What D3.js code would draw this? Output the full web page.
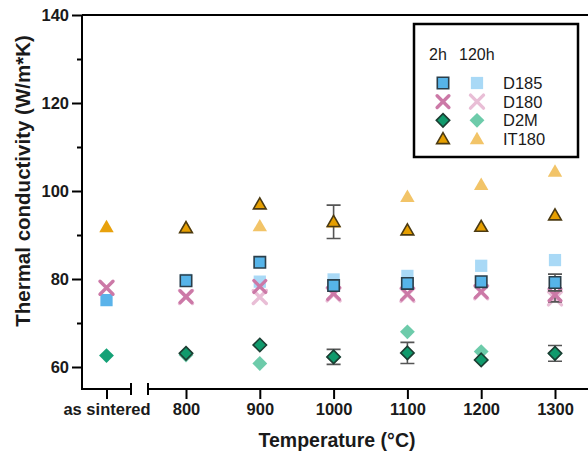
<!DOCTYPE html>
<html>
<head>
<meta charset="utf-8">
<script src="https://cdn.jsdelivr.net/npm/d3@7"></script>
<style>
  html, body { margin: 0; padding: 0; background: #fff; }
  svg { display: block; font-family: "Liberation Sans", Arial, sans-serif; }
</style>
</head>
<body>
<svg id="chart" width="588" height="454"></svg>
<script>
// Thermal conductivity after annealing, 2 h vs 120 h holds
const categories = ["as sintered", "800", "900", "1000", "1100", "1200", "1300"];
const temps = [800, 900, 1000, 1100, 1200, 1300];
const yTicks = [60, 80, 100, 120, 140];
const yMinor = [70, 90, 110, 130];

// 2 h series (first entry = as sintered)
const d185_2h  = [75.2, 79.6, 83.8, 78.5, 79.0, 79.4, 79.2];
const d180_2h  = [78.0, 76.0, 78.3, 76.7, 76.6, 77.1, 76.4];
const d2m_2h   = [62.6, 63.1, 65.0, 62.3, 63.2, 61.6, 63.1];
const it180_2h = [91.8, 91.6, 97.0, 93.0, 91.1, 91.9, 94.5];

// 2 h standard deviations
const d185_err  = [0, 0, 0, 0, 0, 0, 1.9];
const d180_err  = [0, 0, 0, 0, 0, 0, 1.6];
const d2m_err   = [0, 0, 0, 1.7, 2.4, 0, 1.8];
const it180_err = [0, 0, 0, 3.8, 0, 0, 0];

// 120 h series (800–1300 °C)
const d185_120h  = [79.8, 79.4, 79.9, 80.7, 83.0, 84.3];
const d180_120h  = [75.9, 75.9, 76.5, 76.4, 77.0, 75.6];
const d2m_120h   = [62.7, 60.8, 62.3, 68.0, 63.5, 63.0];
const it180_120h = [91.7, 92.0, 92.8, 98.7, 101.4, 104.4];

const names = ["D185", "D180", "D2M", "IT180"];

const svg = d3.select("#chart");

const y = d3.scaleLinear().domain([55, 140]).range([389, 15]);
const xT = d3.scaleLinear().domain([800, 1300]).range([186, 555]);
const xS = d3.scalePoint().domain(["as sintered"]).range([82, 131]).padding(0.5);
const xOf = (i) => i === 0 ? xS("as sintered") : xT(temps[i - 1]);

// marker shapes
const diamondType = {
  draw(ctx, size) {
    const r = Math.sqrt(size / 2);
    ctx.moveTo(0, -r); ctx.lineTo(r, 0); ctx.lineTo(0, r); ctx.lineTo(-r, 0); ctx.closePath();
  }
};
const shapes = {
  D185:  { type: d3.symbolSquare,   size: 150 },
  D180:  { type: d3.symbolTimes,    size: 112 },
  D2M:   { type: diamondType,       size: 110 },
  IT180: { type: d3.symbolTriangle, size: 90 }
};
const dark = {
  D185:  { fill: "#56B4E9", stroke: "#2a3e4a" },
  D180:  { fill: "none",    stroke: "#CC79A7" },
  D2M:   { fill: "#109A6C", stroke: "#1c3d32" },
  IT180: { fill: "#E69F00", stroke: "#4b3a12" }
};
const light = {
  D185:  { fill: "#A9D9F6" },
  D180:  { stroke: "#E9BED6" },
  D2M:   { fill: "#6DCBAA" },
  IT180: { fill: "#F2C468" }
};
const asSint = {
  D185:  { fill: "#5AB3EA" },
  D180:  { stroke: "#CC79A7" },
  D2M:   { fill: "#14A176" },
  IT180: { fill: "#E8A10C" }
};

function marker(g, name, cx, cy, style, outlined) {
  const sh = shapes[name];
  const p = g.append("path")
    .attr("d", d3.symbol().type(sh.type).size(outlined ? sh.size - 20 : sh.size)())
    .attr("transform", `translate(${cx},${cy})` + (name === "IT180" ? " translate(0,1)" : ""));
  if (name === "D180") {
    p.attr("fill", "none").attr("stroke", style.stroke).attr("stroke-width", 3.4).attr("stroke-linecap", "round");
  } else {
    p.attr("fill", style.fill);
    if (outlined) p.attr("stroke", style.stroke).attr("stroke-width", 1.6);
  }
  return p;
}

// axes
const yAxis = svg.append("g").attr("transform", "translate(82,0)")
  .call(d3.axisLeft(y).tickValues(yTicks).tickSize(10).tickPadding(3).tickFormat(d3.format("d")));
yAxis.select(".domain").attr("stroke-width", 2).attr("d", `M0,${y(140)}V${y(55)}`);
yAxis.selectAll(".tick line").attr("stroke-width", 2);
yAxis.selectAll("text").attr("font-size", 16.5).attr("font-weight", "bold").attr("fill", "#1a1a1a");
svg.append("g").attr("transform", "translate(82,0)")
  .call(d3.axisLeft(y).tickValues(yMinor).tickSize(5).tickFormat(""))
  .call(g => g.select(".domain").remove())
  .selectAll("line").attr("stroke-width", 2);

// top frame line
svg.append("line").attr("x1", 82).attr("x2", 588).attr("y1", y(140)).attr("y2", y(140))
  .attr("stroke", "#000").attr("stroke-width", 2);

// x axis: broken into an as-sintered segment and a temperature segment
const xAxisS = svg.append("g").attr("transform", `translate(0,${y(55)})`)
  .call(d3.axisBottom(xS).tickSize(10).tickPadding(4));
xAxisS.select(".domain").attr("d", "M81,0H131M131,-6V6").attr("stroke-width", 2);
const xAxisT = svg.append("g").attr("transform", `translate(0,${y(55)})`)
  .call(d3.axisBottom(xT).tickValues(temps).tickSize(10).tickPadding(4).tickFormat(d3.format("d")));
xAxisT.select(".domain").attr("d", "M148,-6V6M148,0H588").attr("stroke-width", 2);
[xAxisS, xAxisT].forEach(a => {
  a.selectAll(".tick line").attr("stroke-width", 2);
  a.selectAll("text").attr("font-size", 16.5).attr("font-weight", "bold").attr("fill", "#1a1a1a");
});

// axis titles
svg.append("text").attr("x", 337).attr("y", 447).attr("text-anchor", "middle")
  .attr("font-size", 19.5).attr("font-weight", "bold").attr("fill", "#1a1a1a")
  .text("Temperature (°C)");
svg.append("text").attr("transform", "translate(30,181) rotate(-90)").attr("text-anchor", "middle")
  .attr("font-size", 20.5).attr("font-weight", "bold").attr("fill", "#1a1a1a")
  .text("Thermal conductivity (W/m*K)");

const plot = svg.append("g");
const data2h = { D185: d185_2h, D180: d180_2h, D2M: d2m_2h, IT180: it180_2h };
const err2h = { D185: d185_err, D180: d180_err, D2M: d2m_err, IT180: it180_err };
const data120 = { D185: d185_120h, D180: d180_120h, D2M: d2m_120h, IT180: it180_120h };

// 120 h points
["D185", "D180", "D2M", "IT180"].forEach(n => {
  data120[n].forEach((v, i) => marker(plot, n, xT(temps[i]), y(v), light[n], false));
});

// as sintered points
["D185", "D180", "D2M", "IT180"].forEach(n => {
  marker(plot, n, xS("as sintered"), y(data2h[n][0]), asSint[n], false);
});

// 2 h points with error bars
["D180", "D185", "D2M", "IT180"].forEach(n => {
  data2h[n].forEach((v, i) => {
    if (i === 0) return;
    const cx = xOf(i), e = err2h[n][i];
    if (e > 0) {
      plot.append("path")
        .attr("d", `M${cx - 7},${y(v + e)}H${cx + 7}M${cx},${y(v + e)}V${y(v - e)}M${cx - 7},${y(v - e)}H${cx + 7}`)
        .attr("stroke", "#555").attr("stroke-width", 1.6).attr("fill", "none");
    }
    marker(plot, n, cx, y(v), dark[n], true);
  });
});

// legend
const lg = svg.append("g");
lg.append("rect").attr("x", 414).attr("y", 24).attr("width", 164).attr("height", 133)
  .attr("fill", "#fff").attr("stroke", "#000").attr("stroke-width", 2.5);
lg.append("text").attr("x", 429).attr("y", 60).attr("font-size", 16).attr("fill", "#1a1a1a").text("2h");
lg.append("text").attr("x", 459).attr("y", 60).attr("font-size", 16).attr("fill", "#1a1a1a").text("120h");
const rowY = d3.scalePoint().domain(names).range([83, 139]);
names.forEach(n => {
  marker(lg, n, 443, rowY(n), dark[n], true);
  marker(lg, n, 477, rowY(n), light[n], false);
  lg.append("text").attr("x", 503).attr("y", rowY(n) + 6).attr("font-size", 16.5)
    .attr("fill", "#1a1a1a").text(n);
});
</script>
</body>
</html>
